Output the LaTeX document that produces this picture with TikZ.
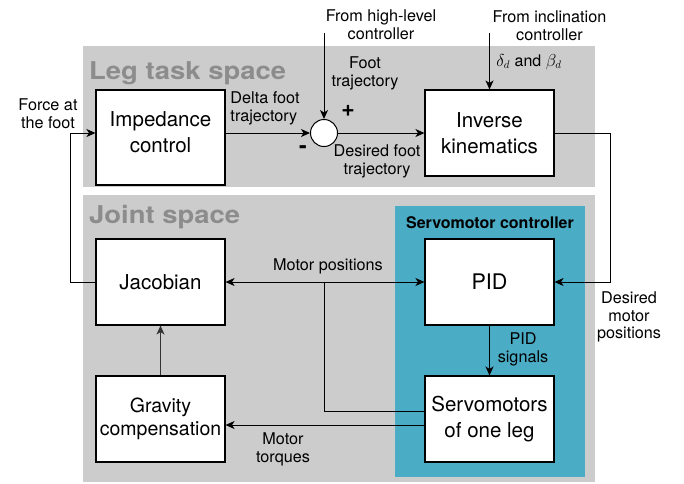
\documentclass[tikz,border=0pt]{standalone}
\usepackage{fontspec}
\setmainfont{TeX Gyre Heros}
\usetikzlibrary{arrows.meta}
\definecolor{panelgray}{HTML}{CCCCCC}
\definecolor{titlegray}{HTML}{8C8C8C}
\definecolor{servoteal}{HTML}{4BACC6}
\begin{document}
\begin{tikzpicture}[x=1pt,y=-1pt,
  blk/.style={draw=black, fill=white, line width=1.1pt, minimum width=129pt,
    minimum height=86pt, inner sep=0pt, align=center,
    font=\fontsize{20.5}{25.5}\selectfont},
  boxtext/.style={align=center, inner sep=0pt, font=\fontsize{20.5}{26}\selectfont},
  lbl/.style={align=center, inner sep=0pt, font=\fontsize{16.2}{17.8}\selectfont},
  ttl/.style={anchor=base west, inner sep=0pt, text=titlegray,
    font=\bfseries\fontsize{24.5}{28}\selectfont},
  arr/.style={line width=1pt, -{Stealth[length=9pt,width=8pt,inset=2.5pt]}},
  darr/.style={line width=1pt, {Stealth[length=9pt,width=8pt,inset=2.5pt]}-{Stealth[length=9pt,width=8pt,inset=2.5pt]}},
  ln/.style={line width=1pt}]

\useasboundingbox (0,0) rectangle (684,483);

% panels
\fill[panelgray] (83,46) rectangle (595,187);
\fill[panelgray] (83,195) rectangle (595,482);
\fill[servoteal] (395,206) rectangle (585,477);

\node[ttl] (tleg) at (89,79) {\scalebox{1.12}[1]{Leg task space}};
\node[ttl] (tjoint) at (89,223) {\scalebox{1.12}[1]{Joint space}};
\node[font=\bfseries\fontsize{16}{18}\selectfont, inner sep=0pt] (tservo) at (490,223) {Servomotor controller};

% blocks
\node[blk, minimum height=95pt] (imp) at (160.5,137.5) {};
\node[boxtext] (imptext) at (160.5,132) {Impedance\\control};
\node[blk] (ik) at (489.5,133) {Inverse\\kinematics};
\node[blk] (jac) at (160.5,282) {Jacobian};
\node[blk, font=\fontsize{19.5}{23.5}\selectfont] (grav) at (160.5,419) {Gravity\\compensation};
\node[blk, font=\fontsize{21.5}{25}\selectfont] (pid) at (489.5,282) {PID};
\node[blk] (servo) at (489.5,419) {Servomotors\\of one leg};
\node[circle, draw=black, fill=white, line width=1pt, minimum size=27pt, inner sep=0pt] (sum) at (324,133) {};

% free ends and bends
\coordinate (hl) at (324,33);
\coordinate (inc) at (489.5,33);
\coordinate (ikturn) at (610,133);
\coordinate (fb) at (70,282);
\coordinate (br) at (324,282);
\coordinate (brlow) at (324,411);

% connectors
\draw[arr] (imp.east |- sum.west) -- (sum.west);
\draw[arr] (sum.east) -- (ik.west);
\draw[arr] (hl) -- (sum.north);
\draw[arr] (inc) -- (ik.north);
\draw[arr] (ik.east) -- (ikturn) |- (pid.east);
\draw[arr] (jac.west) -- (fb) |- (imp.west |- sum.west);
\draw[darr] (jac.east) -- (pid.west);
\draw[ln] (br) -- (brlow) -- (brlow -| servo.west);
\draw[arr] ([yshift=-6pt]servo.west) -- ([yshift=-6pt]servo.west -| grav.east);
\draw[arr, draw=black!80, fill=black!80] (grav.north) -- (jac.south);
\draw[arr] (pid.south) -- (servo.north);

% labels
\node[lbl] (lforce) at (48,114) {Force at\\the foot};
\node[lbl, align=left] (ldelta) at (265,108) {Delta foot\\trajectory};
\node[lbl] (lhigh) at (381,25) {From high-level\\controller};
\node[lbl] (lfoot) at (365,73) {Foot\\trajectory};
\node[inner sep=0pt, font=\bfseries\fontsize{23}{23}\selectfont] (lplus) at (348,111) {+};
\node[inner sep=0pt, font=\bfseries\fontsize{23}{23}\selectfont] (lminus) at (303,150) {-};
\node[lbl] (ldes) at (377,161) {Desired foot\\trajectory};
\node[lbl] (linc) at (549.5,26) {From inclination\\controller};
\node[lbl, font=\fontsize{16}{18}\selectfont] (lang) at (529,62) {$\delta_d$ and $\beta_d$};
\node[lbl] (ldmp) at (629,317) {Desired\\motor\\positions};
\node[lbl] (lpid) at (523,349) {PID\\signals};
\node[lbl] (lmpos) at (328,266) {Motor positions};
\node[lbl] (ltorq) at (283,449) {Motor\\torques};
\end{tikzpicture}
\end{document}
